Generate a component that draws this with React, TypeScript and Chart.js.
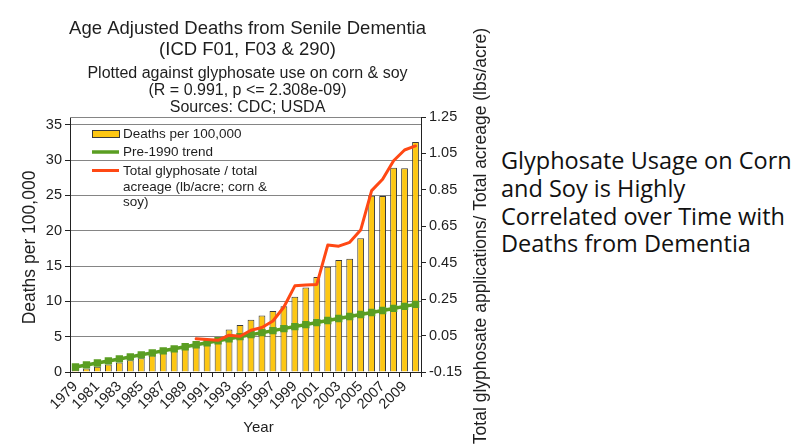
import { useEffect, useRef } from 'react';
import { Chart, registerables } from 'chart.js';

Chart.register(...registerables);

// Calendar years on the category axis
const years = [
  '1979', '1980', '1981', '1982', '1983', '1984', '1985', '1986',
  '1987', '1988', '1989', '1990', '1991', '1992', '1993', '1994',
  '1995', '1996', '1997', '1998', '1999', '2000', '2001', '2002',
  '2003', '2004', '2005', '2006', '2007', '2008', '2009', '2010',
];

// Age adjusted deaths per 100,000 (senile dementia)
const deathsPer100k = [
  0.3, 0.5, 0.75, 1.05, 1.35, 1.65, 1.95, 2.35,
  2.7, 3.05, 3.35, 3.7, 4.1, 4.95, 6.0, 6.65,
  7.4, 8.0, 8.65, 9.3, 10.65, 11.95, 13.45, 14.9,
  15.85, 16.05, 18.95, 24.95, 24.9, 28.9, 28.85, 32.55,
];

// Linear trend fitted to the pre-1990 death rates
const pre1990Trend = [
  0.71, 1.0, 1.28, 1.57, 1.85, 2.14, 2.43, 2.71,
  3.0, 3.28, 3.57, 3.86, 4.14, 4.43, 4.71, 5.0,
  5.29, 5.57, 5.86, 6.14, 6.43, 6.71, 7.0, 7.29,
  7.57, 7.86, 8.14, 8.43, 8.71, 9.0, 9.29, 9.57,
];

// Glyphosate applied per acre of corn & soy (lb/acre), reported from 1990
const glyphosatePerAcre = [
  null, null, null, null, null, null, null, null,
  null, null, null, 0.032, 0.028, 0.024, 0.052, 0.046,
  0.079, 0.094, 0.13, 0.207, 0.323, 0.327, 0.331, 0.547,
  0.541, 0.562, 0.629, 0.846, 0.908, 1.01, 1.069, 1.091,
];

const deathTicks = [0, 5, 10, 15, 20, 25, 30, 35];

const titleLines = ['Age Adjusted Deaths from Senile Dementia', '(ICD F01, F03 & 290)'];
const subtitleLines = [
  'Plotted against glyphosate use on corn & soy',
  '(R = 0.991, p <= 2.308e-09)',
  'Sources: CDC; USDA',
];
const leftAxisTitle = 'Deaths per 100,000';
const rightAxisTitle = 'Total glyphosate applications/ Total acreage (lbs/acre)';
const legendDeaths = 'Deaths per 100,000';
const legendTrend = 'Pre-1990 trend';
const legendGlyphosate = ['Total glyphosate / total', 'acreage (lb/acre; corn &', 'soy)'];
const sideNote = [
  'Glyphosate Usage on Corn',
  'and Soy is Highly',
  'Correlated over Time with',
  'Deaths from Dementia',
];

const FONT = '"Liberation Sans", Arial, sans-serif';
const BAR_FILL = '#fdc713';
const BAR_EDGE = '#3a3a3a';
const GREEN = '#5a9e22';
const RED = '#ff4814';
const GRID = '#858585';
const INK = '#1e1e1e';

const annotations = {
  id: 'annotations',
  beforeDatasetsDraw(chart: any) {
    const { ctx, chartArea } = chart;
    // top edge of the plotting frame
    ctx.save();
    ctx.strokeStyle = GRID;
    ctx.lineWidth = 1;
    ctx.beginPath();
    ctx.moveTo(chartArea.left, chartArea.top + 0.5);
    ctx.lineTo(chartArea.right, chartArea.top + 0.5);
    ctx.stroke();
    ctx.restore();
  },
  afterDraw(chart: any) {
    const { ctx, chartArea } = chart;
    const cx = (chartArea.left + chartArea.right) / 2 + 2;
    ctx.save();
    ctx.fillStyle = INK;
    ctx.textAlign = 'center';
    ctx.textBaseline = 'middle';

    ctx.font = `18.5px ${FONT}`;
    titleLines.forEach((t, i) => ctx.fillText(t, cx, 29 + i * 21));
    ctx.font = `16px ${FONT}`;
    subtitleLines.forEach((t, i) => ctx.fillText(t, cx, 74 + i * 16.7));

    ctx.font = `15px ${FONT}`;
    ctx.fillText('Year', cx + 11, chartArea.bottom + 56);

    // axis titles, both reading bottom-to-top
    ctx.font = `17.5px ${FONT}`;
    ctx.save();
    ctx.translate(30, (chartArea.top + chartArea.bottom) / 2 + 3);
    ctx.rotate(-Math.PI / 2);
    ctx.fillText(leftAxisTitle, 0, 0);
    ctx.restore();
    ctx.save();
    ctx.translate(chartArea.right + 60, 236);
    ctx.rotate(-Math.PI / 2);
    ctx.fillText(rightAxisTitle, 0, 0);
    ctx.restore();

    // legend inside the plot, top-left
    const lx = chartArea.left + 22;
    const tx = lx + 31;
    const y0 = chartArea.top + 17;
    ctx.textAlign = 'left';
    ctx.font = `13.5px ${FONT}`;

    ctx.fillStyle = BAR_FILL;
    ctx.fillRect(lx, y0 - 3.5, 27, 7);
    ctx.strokeStyle = BAR_EDGE;
    ctx.lineWidth = 1;
    ctx.strokeRect(lx + 0.5, y0 - 3.5, 27, 7);
    ctx.fillStyle = INK;
    ctx.fillText(legendDeaths, tx, y0);

    ctx.strokeStyle = GREEN;
    ctx.lineWidth = 3.5;
    ctx.beginPath();
    ctx.moveTo(lx, y0 + 18);
    ctx.lineTo(lx + 27, y0 + 18);
    ctx.stroke();
    ctx.fillText(legendTrend, tx, y0 + 18);

    ctx.strokeStyle = RED;
    ctx.lineWidth = 3;
    ctx.beginPath();
    ctx.moveTo(lx, y0 + 36.5);
    ctx.lineTo(lx + 27, y0 + 36.5);
    ctx.stroke();
    legendGlyphosate.forEach((t, i) => ctx.fillText(t, tx, y0 + 37 + i * 15.8));
    ctx.restore();
  },
};

function GlyphosateDementiaChart() {
  const canvasRef = useRef<HTMLCanvasElement | null>(null);

  useEffect(() => {
    const canvas = canvasRef.current;
    if (!canvas) return;
    Chart.defaults.font.family = FONT;
    Chart.defaults.color = INK;

    const chart = new Chart(canvas, {
      type: 'bar',
      data: {
        labels: years,
        datasets: [
          {
            type: 'line',
            label: legendGlyphosate.join(' '),
            data: glyphosatePerAcre,
            yAxisID: 'y2',
            borderColor: RED,
            borderWidth: 3,
            pointRadius: 0,
            tension: 0,
            spanGaps: false,
            borderCapStyle: 'round',
            borderJoinStyle: 'round',
            order: 1,
          },
          {
            type: 'line',
            label: legendTrend,
            data: pre1990Trend,
            yAxisID: 'y',
            borderColor: GREEN,
            borderWidth: 3.5,
            pointStyle: 'rect',
            pointRadius: 5.2,
            pointBackgroundColor: GREEN,
            pointBorderWidth: 0,
            tension: 0,
            order: 2,
          },
          {
            type: 'bar',
            label: legendDeaths,
            data: deathsPer100k,
            yAxisID: 'y',
            backgroundColor: BAR_FILL,
            borderColor: BAR_EDGE,
            borderWidth: 1,
            barPercentage: 0.62,
            categoryPercentage: 1,
            order: 3,
          },
        ],
      } as any,
      options: {
        responsive: false,
        animation: false,
        devicePixelRatio: 1,
        layout: { padding: { top: 117, left: 0, right: 0, bottom: 0 } },
        plugins: {
          legend: { display: false },
          title: { display: false },
          tooltip: { enabled: false },
        },
        scales: {
          x: {
            offset: true,
            afterFit: (s: any) => { s.height = 75; },
            grid: {
              offset: true,
              drawOnChartArea: false,
              drawTicks: true,
              tickLength: 5,
              tickColor: '#222',
            },
            border: { color: '#222', width: 1 },
            ticks: {
              autoSkip: false,
              minRotation: 45,
              maxRotation: 45,
              padding: 1,
              color: INK,
              font: { size: 14.5 },
              callback: (_v: any, i: number) => (i % 2 === 0 ? years[i] : ''),
            },
          },
          y: {
            position: 'left',
            min: 0,
            max: 36.1,
            afterFit: (s: any) => { s.width = 70; },
            afterBuildTicks: (s: any) => { s.ticks = deathTicks.map((v) => ({ value: v })); },
            grid: {
              color: GRID,
              lineWidth: 1,
              drawTicks: true,
              tickLength: 5,
              tickColor: '#222',
            },
            border: { color: '#222', width: 1 },
            ticks: { padding: 3, color: INK, font: { size: 14.5 } },
          },
          y2: {
            position: 'right',
            min: -0.15,
            max: 1.25,
            afterFit: (s: any) => { s.width = 79; },
            grid: {
              drawOnChartArea: false,
              drawTicks: true,
              tickLength: 5,
              tickColor: '#222',
            },
            border: { color: '#222', width: 1 },
            ticks: {
              stepSize: 0.2,
              padding: 3,
              color: INK,
              font: { size: 14.5 },
              callback: (v: any) => Number(v).toFixed(2),
            },
          },
        },
      } as any,
      plugins: [annotations],
    });

    return () => chart.destroy();
  }, []);

  return <canvas ref={canvasRef} width={500} height={447} style={{ display: 'block' }} />;
}

export default function App() {
  return (
    <div
      style={{
        position: 'fixed',
        left: 0,
        top: 0,
        width: 800,
        height: 447,
        background: '#ffffff',
        overflow: 'hidden',
      }}
    >
      <GlyphosateDementiaChart />
      <div
        style={{
          position: 'absolute',
          left: 501,
          top: 147,
          fontFamily: '"Open Sans", "Noto Sans", sans-serif',
          fontSize: 23.5,
          lineHeight: '27.8px',
          color: '#111',
          whiteSpace: 'nowrap',
        }}
      >
        {sideNote.map((line) => (
          <div key={line}>{line}</div>
        ))}
      </div>
    </div>
  );
}
